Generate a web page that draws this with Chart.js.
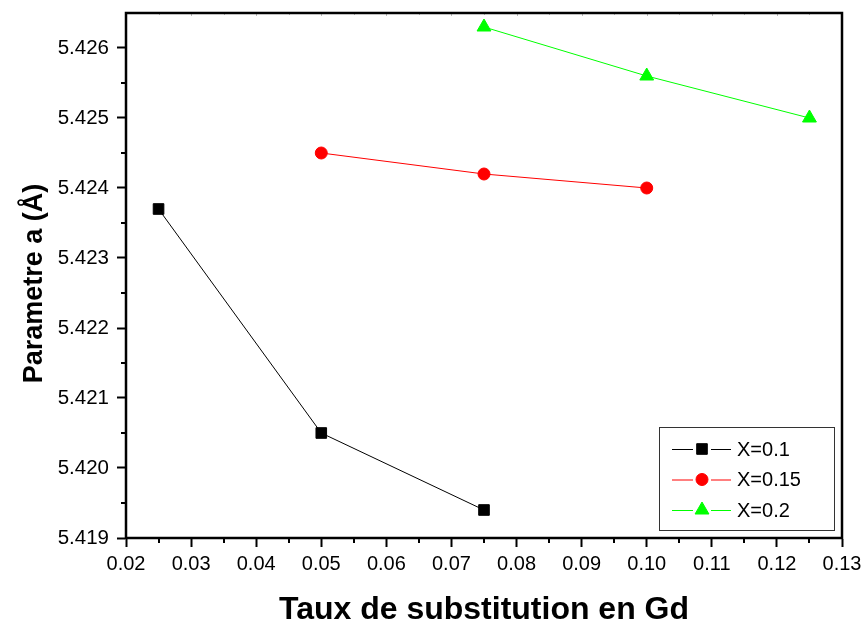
<!DOCTYPE html>
<html>
<head>
<meta charset="utf-8">
<script src="https://cdn.jsdelivr.net/npm/chart.js@4.4.1/dist/chart.umd.min.js"></script>
<style>
  html, body { margin: 0; padding: 0; background: #fff; }
  #wrap { width: 864px; height: 622px; position: relative; }
</style>
</head>
<body>
<div id="wrap"><canvas id="chart" width="864" height="622"></canvas></div>
<script>
// data
const xTicks = [0.02, 0.03, 0.04, 0.05, 0.06, 0.07, 0.08, 0.09, 0.10, 0.11, 0.12, 0.13];
const yTicks = [5.419, 5.420, 5.421, 5.422, 5.423, 5.424, 5.425, 5.426];

const seriesNames = ['X=0.1', 'X=0.15', 'X=0.2'];
const x01 = [0.025, 0.05, 0.075];
const y01 = [5.4237, 5.4205, 5.4194];
const x015 = [0.05, 0.075, 0.10];
const y015 = [5.4245, 5.4242, 5.4240];
const x02 = [0.075, 0.10, 0.125];
const y02 = [5.4263, 5.4256, 5.4250];

const xTitle = 'Taux de substitution en Gd';
const yTitle = 'Parametre a (Å)';

const FONT = "Arial, 'Liberation Sans', sans-serif";

function pts(xs, ys){ return xs.map((x,i) => ({x: x, y: ys[i]})); }

function mkSet(label, data, color, style, radius){
  return {
    label: label, data: data, borderColor: color, backgroundColor: color,
    borderWidth: 1, pointStyle: style, pointRadius: radius, pointHoverRadius: radius,
    pointBackgroundColor: color, pointBorderColor: color, pointBorderWidth: 1,
    showLine: true, tension: 0
  };
}

// minor ticks, frame, y title and the boxed legend
const decor = {
  id: 'decor',
  afterDraw(chart){
    const ctx = chart.ctx, a = chart.chartArea;
    const xs = chart.scales.x, ys = chart.scales.y;
    ctx.save();
    ctx.strokeStyle = '#000';
    ctx.lineWidth = 2;
    // minor ticks outward
    ctx.beginPath();
    for (let i = 0; i < xTicks.length - 1; i++) {
      const px = Math.round(xs.getPixelForValue((xTicks[i] + xTicks[i+1]) / 2));
      ctx.moveTo(px, a.bottom); ctx.lineTo(px, a.bottom + 5);
    }
    for (let i = 0; i < yTicks.length - 1; i++) {
      const py = Math.round(ys.getPixelForValue((yTicks[i] + yTicks[i+1]) / 2));
      ctx.moveTo(a.left, py); ctx.lineTo(a.left - 5, py);
    }
    ctx.stroke();
    // faint mirrored ticks on top
    ctx.strokeStyle = '#bbb';
    ctx.lineWidth = 1;
    ctx.beginPath();
    for (let i = 0; i < xTicks.length - 1; i++) {
      const p1 = Math.round(xs.getPixelForValue(xTicks[i])) + 0.5;
      const p2 = Math.round(xs.getPixelForValue((xTicks[i] + xTicks[i+1]) / 2)) + 0.5;
      ctx.moveTo(p1, a.top); ctx.lineTo(p1, a.top + 3);
      ctx.moveTo(p2, a.top); ctx.lineTo(p2, a.top + 2);
    }
    ctx.stroke();
    // frame
    ctx.strokeStyle = '#000';
    ctx.lineWidth = 2.5;
    ctx.strokeRect(a.left, a.top, a.right - a.left, a.bottom - a.top);

    // y title (sits a little below the middle of the axis, as in the original)
    ctx.save();
    ctx.translate(42, (a.top + a.bottom) / 2 + 8);
    ctx.rotate(-Math.PI / 2);
    ctx.fillStyle = '#000';
    ctx.font = 'bold 27px ' + FONT;
    ctx.textAlign = 'center';
    ctx.textBaseline = 'alphabetic';
    ctx.fillText(yTitle, 0, 0);
    ctx.restore();

    // legend box
    const bx = 659, by = 427, bw = 175, bh = 103;
    ctx.fillStyle = '#fff';
    ctx.fillRect(bx, by, bw, bh);
    ctx.strokeStyle = '#333';
    ctx.lineWidth = 1;
    ctx.strokeRect(bx + 0.5, by + 0.5, bw, bh);
    ctx.font = '20px ' + FONT;
    ctx.textBaseline = 'middle';
    ctx.textAlign = 'left';
    chart.data.datasets.forEach((ds, i) => {
      const cy = by + 22 + i * 30.5;
      ctx.strokeStyle = ds.borderColor;
      ctx.lineWidth = 1;
      ctx.beginPath();
      ctx.moveTo(672, cy + 0.5); ctx.lineTo(693, cy + 0.5);
      ctx.moveTo(711, cy + 0.5); ctx.lineTo(731, cy + 0.5);
      ctx.stroke();
      ctx.fillStyle = ds.pointBackgroundColor;
      Chart.helpers.drawPoint(ctx, {
        pointStyle: ds.pointStyle, rotation: 0, radius: ds.pointRadius, borderWidth: 1
      }, 702, cy);
      ctx.fillStyle = '#000';
      ctx.fillText(ds.label, 737, cy + 1);
    });
    ctx.restore();
  }
};

new Chart(document.getElementById('chart'), {
  type: 'line',
  data: {
    datasets: [
      mkSet(seriesNames[0], pts(x01, y01), '#000000', 'rect', 7.5),
      mkSet(seriesNames[1], pts(x015, y015), '#ff0000', 'circle', 6),
      mkSet(seriesNames[2], pts(x02, y02), '#00ff00', 'triangle', 8)
    ]
  },
  options: {
    responsive: false,
    animation: false,
    layout: { padding: { top: 13, right: 22, left: 0, bottom: 0 } },
    plugins: { legend: { display: false }, tooltip: { enabled: false } },
    scales: {
      x: {
        type: 'linear', min: 0.02, max: 0.13,
        afterBuildTicks: s => { s.ticks = xTicks.map(v => ({value: v})); },
        afterFit: s => { s.height = 84; s.paddingLeft = 0; s.paddingRight = 0; },
        grid: { drawOnChartArea: false, drawTicks: true, tickLength: 9, tickColor: '#000', tickWidth: 2 },
        border: { display: true, color: '#000', width: 2 },
        ticks: {
          color: '#000', padding: 5, maxRotation: 0, autoSkip: false,
          font: { family: FONT, size: 20 },
          callback: v => v.toFixed(2)
        },
        title: {
          display: true, text: xTitle, color: '#000',
          font: { family: FONT, size: 32, weight: 'bold', lineHeight: 1 },
          padding: { top: 0, bottom: -4 }
        }
      },
      y: {
        type: 'linear', min: 5.419, max: 5.4265,
        afterBuildTicks: s => { s.ticks = yTicks.map(v => ({value: v})); },
        afterFit: s => { s.width = 126; s.paddingTop = 0; s.paddingBottom = 0; },
        grid: { drawOnChartArea: false, drawTicks: true, tickLength: 9, tickColor: '#000', tickWidth: 2 },
        border: { display: true, color: '#000', width: 2 },
        ticks: {
          color: '#000', padding: 8, autoSkip: false,
          font: { family: FONT, size: 20.5 },
          callback: v => v.toFixed(3)
        },
        title: { display: false }
      }
    }
  },
  plugins: [decor]
});
</script>
</body>
</html>
